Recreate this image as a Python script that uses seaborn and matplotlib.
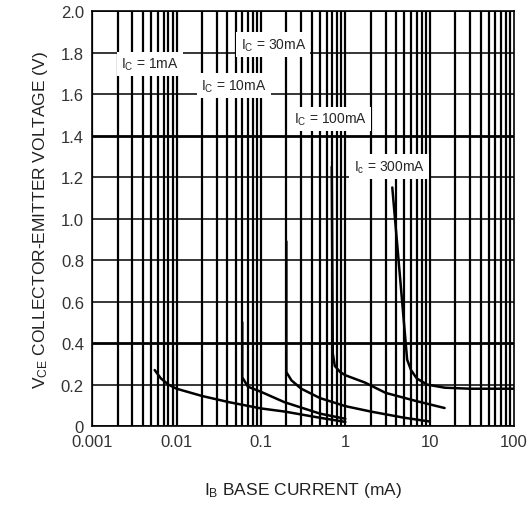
"""
VCE(sat) vs IB - collector-emitter saturation curves
"""

import numpy as np
import pandas as pd
import matplotlib
matplotlib.use('Agg')
import matplotlib.pyplot as plt
import seaborn as sns

# curve data (IB in mA, VCE in V)
ib_1ma = [0.0055, 0.0065, 0.008, 0.01, 0.02, 0.042, 0.1, 0.19, 0.5, 1.0]
vce_1ma = [0.27, 0.23, 0.20, 0.18, 0.145, 0.115, 0.085, 0.07, 0.04, 0.02]

ib_10ma = [0.06, 0.06, 0.07, 0.1, 0.19, 0.5, 1.0]
vce_10ma = [0.50, 0.235, 0.19, 0.165, 0.115, 0.06, 0.035]

ib_30ma = [0.2, 0.2, 0.23, 0.3, 0.5, 1.0, 2.0, 5.0, 10.0]
vce_30ma = [0.89, 0.26, 0.22, 0.18, 0.135, 0.096, 0.07, 0.04, 0.022]

ib_100ma = [0.69, 0.71, 0.75, 0.87, 1.0, 1.7, 3.0, 7.0, 15.0]
vce_100ma = [1.25, 0.35, 0.29, 0.26, 0.245, 0.21, 0.16, 0.12, 0.087]

ib_300ma = [3.6, 5.4, 6.0, 7.0, 9.3, 15.0, 30.0, 100.0]
vce_300ma = [1.15, 0.32, 0.27, 0.23, 0.20, 0.185, 0.18, 0.18]

curve_names = ['1mA', '10mA', '30mA', '100mA', '300mA']
x_ticks = [0.001, 0.01, 0.1, 1, 10, 100]
x_tick_labels = ['0.001', '0.01', '0.1', '1', '10', '100']
y_ticks = [0, 0.2, 0.4, 0.6, 0.8, 1.0, 1.2, 1.4, 1.6, 1.8, 2.0]
y_tick_labels = ['0', '0.2', '0.4', '0.6', '0.8', '1.0', '1.2', '1.4', '1.6', '1.8', '2.0']

# labels: (text, x, y)
label_text = [r'$\mathregular{I_C}$ = 1mA', r'$\mathregular{I_C}$ = 10mA',
              r'$\mathregular{I_C}$ = 30mA', r'$\mathregular{I_C}$ = 100mA',
              r'$\mathregular{I_c}$ = 300mA']
label_x = [0.0048, 0.048, 0.14, 0.66, 3.3]
label_y = [1.745, 1.64, 1.84, 1.48, 1.25]

# long format table for seaborn
frames = []
for name, xs, ys in zip(curve_names,
                        [ib_1ma, ib_10ma, ib_30ma, ib_100ma, ib_300ma],
                        [vce_1ma, vce_10ma, vce_30ma, vce_100ma, vce_300ma]):
    frames.append(pd.DataFrame({'curve': name, 'ib': xs, 'vce': ys}))
df = pd.concat(frames, ignore_index=True)

sns.set_style('white')
plt.rcParams['font.family'] = ['Liberation Sans', 'DejaVu Sans']
plt.rcParams['mathtext.fontset'] = 'custom'
plt.rcParams['mathtext.rm'] = 'Liberation Sans'

fig = plt.figure(figsize=(5.30, 5.06), dpi=100)
ax = fig.add_axes([0.174, 0.156, 0.796, 0.820])

ax.set_xscale('log')
ax.set_xlim(0.001, 100)
ax.set_ylim(0, 2.0)

# grid: every log minor tick vertically, every 0.2 horizontally
for dec in [0.001, 0.01, 0.1, 1, 10]:
    for m in range(1, 10):
        ax.axvline(dec * m, color='black', lw=1.6, zorder=1)
for yv in y_ticks:
    lw = 2.0 if yv in (0.4, 1.4) else 1.1
    ax.axhline(yv, color='black', lw=lw, zorder=1)

sns.lineplot(data=df, x='ib', y='vce', units='curve', estimator=None,
             sort=False, color='black', lw=1.8, ax=ax, zorder=3)

for t, lx, ly in zip(label_text, label_x, label_y):
    ax.text(lx, ly, t, fontsize=10, ha='center', va='center', zorder=4,
            bbox=dict(facecolor='white', edgecolor='none', pad=3))

ax.set_xticks(x_ticks)
ax.set_xticklabels(x_tick_labels)
ax.xaxis.set_minor_locator(matplotlib.ticker.NullLocator())
ax.set_yticks(y_ticks)
ax.set_yticklabels(y_tick_labels)
ax.tick_params(length=0, labelsize=12, pad=6, colors='#333333')

ax.set_xlabel(r'$\mathregular{I_B}$ BASE CURRENT (mA)', fontsize=12.5,
              color='#222222', labelpad=22)
ax.set_ylabel(r'$\mathregular{V_{CE}}$ COLLECTOR-EMITTER VOLTAGE (V)',
              fontsize=12.5, color='#222222', labelpad=8)

for s in ax.spines.values():
    s.set_color('black')
    s.set_linewidth(1.2)

plt.savefig('out.png', dpi=100)
